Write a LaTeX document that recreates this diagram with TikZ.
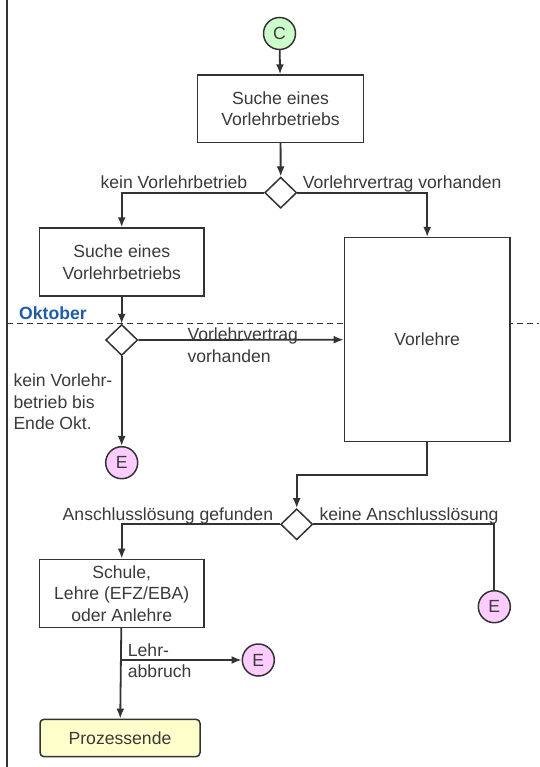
\documentclass[tikz,border=0pt]{standalone}
\usepackage{fontspec}
\setmainfont{Liberation Sans}
\usepackage{tikz}
\usetikzlibrary{calc}
\usetikzlibrary{arrows.meta}
\usetikzlibrary{shapes.geometric}
\definecolor{linie}{HTML}{333333}
\definecolor{schrift}{HTML}{3A3A3A}
\definecolor{startgruen}{HTML}{CCFFCC}
\definecolor{endrosa}{HTML}{FFCCFF}
\definecolor{endgelb}{HTML}{FFFFCC}
\definecolor{monat}{HTML}{1F5BAA}
\tikzset{>={Latex[length=10pt,width=8pt]}}
\tikzstyle{prozess}=[draw=linie,line width=1.5,fill=white,text=schrift,align=center,inner sep=0]
\tikzstyle{entscheid}=[diamond,draw=linie,line width=1.5,fill=white,
                       minimum width=32,minimum height=31,inner sep=0]
\tikzstyle{konnektor}=[circle,draw=linie,line width=1.5,minimum size=32,inner sep=0,text=schrift]
\tikzstyle{fluss}=[draw=linie,line width=1.8]
\tikzstyle{beschr}=[text=schrift,inner sep=0,align=left]

\begin{document}
\begin{tikzpicture}[x=1pt,y=1pt,font=\fontsize{17.6}{21.5}\selectfont]
        \useasboundingbox (0,0) rectangle (539,-767);

        % SWIMLANE
        \draw[linie,line width=1.5] (7,0) -- (7,-767);
        \draw[linie,line width=1.2,dash pattern=on 6pt off 4pt] (7,-323.3) -- (539,-323.3);
        \node[anchor=base west,text=monat,inner sep=0,font=\fontsize{17.6}{21.5}\selectfont\bfseries]
             (okt) at (19,-319.3) {Oktober};

        % STEPS
        \node[konnektor,fill=startgruen] (C) at (279.5,-33.5) {C};
        \node[prozess,minimum width=165.6,minimum height=67.3] (suche) at (280.5,-108.7)
             {Suche eines\\Vorlehrbetriebs};
        \node[entscheid] (ent1) at (280.7,-192.7) {};
        \node[prozess,minimum width=164.7,minimum height=68] (suche2) at (121.7,-262)
             {Suche eines\\Vorlehrbetriebs};
        \node[prozess,minimum width=165.7,minimum height=204] (vorlehre) at (427.2,-339.7) {Vorlehre};
        \node[entscheid] (ent2) at (121.7,-340) {};
        \node[konnektor,fill=endrosa] (E1) at (121.7,-462.7) {E};
        \node[entscheid] (ent3) at (296.7,-524.3) {};
        \node[konnektor,fill=endrosa] (E2) at (494.3,-606.7) {E};
        \node[prozess,minimum width=164.7,minimum height=68] (schule) at (121.7,-593.3)
             {Schule,\\Lehre (EFZ/EBA)\\oder Anlehre};
        \node[konnektor,fill=endrosa] (E3) at (258.3,-660) {E};
        \node[prozess,fill=endgelb,rounded corners=4,minimum width=160,minimum height=37.4]
             (ende) at (120,-738) {Prozessende};
        \coordinate (knick) at ($(vorlehre.south)+(0,-32.6)$);
        \coordinate (abbruch) at (schule.south |- E3.west);

        % FLOW
        \draw[fluss,->] (C) -- (suche);
        \draw[fluss,->] (suche) -- (ent1);
        \draw[fluss,->] (ent1.west) -| (suche2.north);
        \draw[fluss,->] (ent1.east) -| (vorlehre.north);
        \draw[fluss,->] (suche2) -- (ent2);
        \draw[fluss,->] (ent2.east) -- (vorlehre.west);
        \draw[fluss,->] (ent2) -- (E1);
        \draw[fluss,->] (vorlehre.south) -- (knick) -| (ent3.north);
        \draw[fluss,->] (ent3.west) -| (schule.north);
        \draw[fluss] (ent3.east) -| (E2.north);
        \draw[fluss,->] (schule) -- (ende);
        \draw[fluss,->] (abbruch) -- (E3.west);

        % LABELS (base = last line)
        \node[beschr,anchor=base east] (l1) at (247.5,-188.3) {kein Vorlehrbetrieb};
        \node[beschr,anchor=base west] (l2) at (302.7,-188.3) {Vorlehrvertrag vorhanden};
        \node[beschr,anchor=base west] (l3) at (187.3,-362) {Vorlehrvertrag\\vorhanden};
        \node[beschr,anchor=base west] (l4) at (13.3,-429.7) {kein Vorlehr-\\betrieb bis\\Ende Okt.};
        \node[beschr,anchor=base east] (l5) at (273.3,-520) {Anschlusslösung gefunden};
        \node[beschr,anchor=base west] (l6) at (319.3,-520) {keine Anschlusslösung};
        \node[beschr,anchor=base west] (l7) at (127.7,-677.5) {Lehr-\\abbruch};

\end{tikzpicture}
\end{document}
